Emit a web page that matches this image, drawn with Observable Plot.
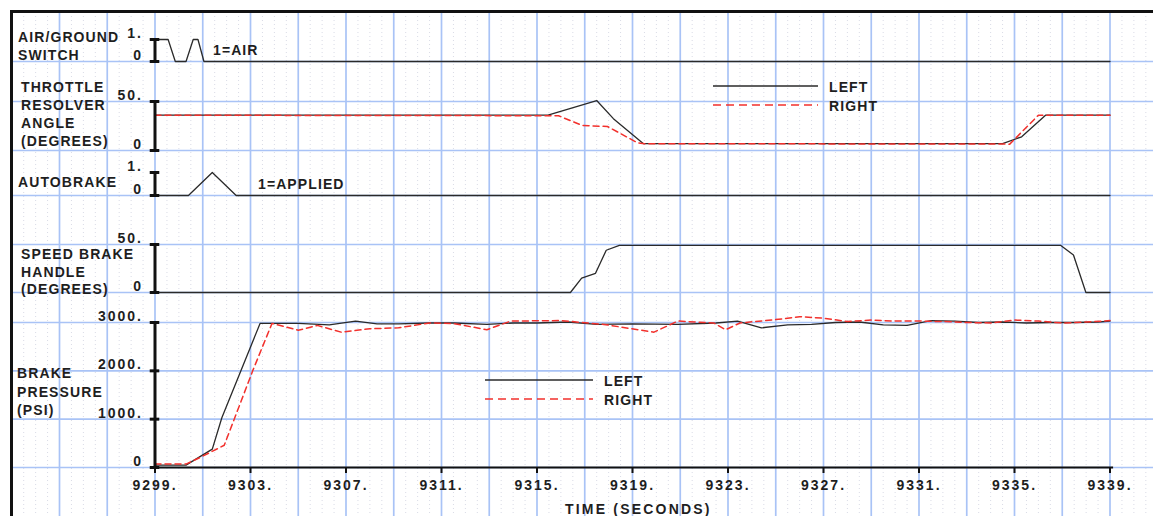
<!DOCTYPE html>
<html><head><meta charset="utf-8">
<script src="https://cdn.jsdelivr.net/npm/d3@7"></script>
<script src="https://cdn.jsdelivr.net/npm/@observablehq/plot@0.6"></script>
<style>
html,body{margin:0;padding:0;background:#fff;overflow:hidden}
#chart{position:relative;width:1153px;height:516px;overflow:hidden;background:#fff}
#chart svg{position:absolute;left:0;top:0;background:transparent}
#chart text{font-family:"Liberation Sans",Arial,sans-serif;font-weight:bold;font-size:14px;letter-spacing:1.1px;fill:#1e1e1e}
#chart svg.panel text{letter-spacing:2px}
#chart text.wide{letter-spacing:2.2px}
.frame{position:absolute;left:10px;top:10px;width:1200px;height:600px;border-top:3px solid #111;border-left:3px solid #111}
</style></head>
<body><div id="chart"></div>
<script>
// ---------- DATA ----------
const xTicks = [9299, 9303, 9307, 9311, 9315, 9319, 9323, 9327, 9331, 9335, 9339];

// Air/ground switch (1 = AIR)
const agTime  = [9299, 9299.55, 9299.85, 9300.3, 9300.6, 9300.8, 9301.05, 9339];
const agValue = [1, 1, 0, 0, 1, 1, 0, 0];
const agTicks = [0, 1];

// Throttle resolver angle (degrees)
const thrLeftTime   = [9299, 9315.46, 9317.5, 9318.2, 9319.46, 9334.5, 9335.3, 9336.3, 9339];
const thrLeftValue  = [36, 36, 51, 32.5, 7, 7, 14, 36, 36];
const thrRightTime  = [9299, 9315.9, 9316.9, 9317.95, 9319.2, 9319.5, 9334.8, 9336.0, 9339];
const thrRightValue = [36, 35.5, 25.5, 24.5, 8, 7, 6.5, 36, 36];
const thrTicks = [0, 50];

// Autobrake (1 = APPLIED)
const abTime  = [9299, 9300.4, 9301.4, 9302.4, 9339];
const abValue = [0, 0, 1, 0, 0];
const abTicks = [0, 1];

// Speed brake handle (degrees)
const sbTime  = [9299, 9316.4, 9316.87, 9317.45, 9317.9, 9318.45, 9336.94, 9337.47, 9337.99, 9339];
const sbValue = [0, 0, 15, 20, 44, 49, 49, 39, 0, 0];
const sbTicks = [0, 50];

// Brake pressure (PSI)
const bpLeftTime = [9299, 9300.3, 9301.4, 9301.8, 9303.4, 9305, 9306.3, 9307.4, 9308.3, 9309.2, 9310.5, 9311.5,
  9312.9, 9314, 9315, 9316.3, 9317.5, 9319, 9320.9, 9322.5, 9323.4, 9324.4, 9325.5, 9326.5, 9327.5, 9328.5,
  9329.5, 9330.5, 9331.5, 9332.5, 9333.5, 9334.5, 9335.5, 9336.5, 9337.5, 9338.5, 9339];
const bpLeftValue = [50, 50, 380, 1030, 2980, 2980, 2950, 3030, 2970, 2970, 2990, 2990,
  2960, 2990, 2990, 3010, 2960, 2970, 2960, 2990, 3030, 2890, 2950, 2960, 3000, 3010,
  2950, 2940, 3040, 3030, 3000, 3010, 2990, 3000, 3000, 3010, 3030];
const bpRightTime = [9299, 9300.3, 9300.9, 9301.9, 9303.1, 9303.9, 9305, 9305.8, 9306.8, 9308, 9309.2, 9310.5,
  9311.5, 9312.9, 9313.9, 9316, 9317.8, 9319.9, 9320.9, 9322.4, 9322.9, 9323.5, 9325, 9326, 9327, 9328,
  9329, 9330, 9331, 9332, 9333, 9334, 9335, 9336, 9337, 9338, 9339];
const bpRightValue = [70, 70, 210, 460, 2010, 2980, 2840, 2940, 2800, 2870, 2890, 2990,
  2980, 2850, 3030, 3040, 2960, 2800, 3030, 2990, 2850, 2990, 3060, 3120, 3090, 3020,
  3050, 3030, 3030, 3020, 3000, 2990, 3050, 3030, 2990, 3010, 3040];
const bpTicks = [0, 1000, 2000, 3000];

// ---------- LAYOUT / STYLE ----------
const W = 1153, H = 516;
const X0 = 9299;
const xScale = {domain: [9299, 9339], range: [154.5, 1109.5]};
const GRID = "#a9c3f6";
const INK = "#2a2a2a";
const RED = "#f2302c";
const zip = (t, v) => t.map((d, i) => ({t: d, v: v[i]}));
const fmt = d => d === 0 ? "0" : d + ".";

const chart = document.getElementById("chart");

// background grid
const major = d3.range(9293, 9342, 2);
const minor = d3.range(9293, 9342, 0.5).filter(d => !major.includes(d));
const bg = Plot.plot({
  width: W, height: H, marginTop: 12, marginBottom: 0, marginLeft: 0, marginRight: 0,
  x: {...xScale, axis: null},
  marks: [
    Plot.ruleX(minor, {stroke: "#d9dbe6", strokeWidth: 1, strokeDasharray: "1,3"}),
    Plot.ruleX(major, {stroke: GRID, strokeWidth: 1.7})
  ]
});
bg.style.background = "transparent";
chart.appendChild(bg);

function panel(cfg) {
  const marks = [
    Plot.ruleY(cfg.grid, {x1: 9293, x2: 9341, stroke: GRID, strokeWidth: 1.7}),
    ...cfg.series,
    Plot.ruleX([X0], {y1: cfg.ticks[0], y2: cfg.ticks[cfg.ticks.length - 1], stroke: "#111", strokeWidth: 3}),
    Plot.ruleY(cfg.ticks, {x1: X0 - 0.2, x2: X0 + 0.2, stroke: "#111", strokeWidth: 3}),
    Plot.text(cfg.ticks, {x: X0, y: d => d, text: fmt, textAnchor: "end", dx: -12, dy: -6})
  ];
  if (cfg.extra) marks.push(...cfg.extra);
  const svg = Plot.plot({
    width: W, height: H, marginTop: 0, marginLeft: 0, marginRight: 0, marginBottom: cfg.mb || 0,
    x: cfg.xaxis ? {...xScale} : {...xScale, axis: null},
    y: {domain: cfg.domain, range: cfg.range, axis: null},
    marks
  });
  svg.style.background = "transparent";
  svg.classList.add("panel");
  chart.appendChild(svg);
}

const blackLine = (t, v) => Plot.line(zip(t, v), {x: "t", y: "v", stroke: INK, strokeWidth: 1.3});
const redLine = (t, v) => Plot.line(zip(t, v), {x: "t", y: "v", stroke: RED, strokeWidth: 1.5, strokeDasharray: "6,4"});

panel({domain: [0, 1], range: [61, 39], ticks: agTicks, grid: [0],
  series: [blackLine(agTime, agValue)]});
panel({domain: [0, 50], range: [150, 101], ticks: thrTicks, grid: [0, 50],
  series: [blackLine(thrLeftTime, thrLeftValue), redLine(thrRightTime, thrRightValue)]});
panel({domain: [0, 1], range: [195, 172], ticks: abTicks, grid: [0],
  series: [blackLine(abTime, abValue)]});
panel({domain: [0, 50], range: [292, 244], ticks: sbTicks, grid: [0, 50],
  series: [blackLine(sbTime, sbValue)]});
panel({domain: [0, 3000], range: [467, 322], ticks: bpTicks, grid: [0, 1000, 2000, 3000], mb: H - 467, xaxis: true,
  series: [blackLine(bpLeftTime, bpLeftValue), redLine(bpRightTime, bpRightValue)],
  extra: [
    Plot.ruleY([0], {x1: X0, x2: 9339.15, stroke: "#111", strokeWidth: 2}),
    Plot.axisX({ticks: xTicks, tickSize: 6, tickPadding: 7, tickFormat: d => d + ".", label: null, strokeWidth: 2, stroke: "#111"})
  ]});

// annotations: panel titles, inline notes, legends
const ov = d3.select(chart).append("svg").attr("width", W).attr("height", H);
const labels = [
  ["AIR/GROUND", 18, 42], ["SWITCH", 18, 60],
  ["THROTTLE", 21, 92], ["RESOLVER", 21, 110], ["ANGLE", 21, 128], ["(DEGREES)", 21, 146],
  ["AUTOBRAKE", 18, 187],
  ["SPEED BRAKE", 21, 259], ["HANDLE", 21, 276.5], ["(DEGREES)", 21, 294],
  ["BRAKE", 17, 378], ["PRESSURE", 17, 397], ["(PSI)", 17, 415],
  ["1=AIR", 213, 55], ["1=APPLIED", 258, 189]
];
ov.selectAll("text.lab").data(labels).join("text").attr("class", "lab")
  .attr("x", d => d[1]).attr("y", d => d[2]).text(d => d[0]);
ov.append("text").attr("class", "wide").attr("x", 565).attr("y", 514).text("TIME (SECONDS)");

const legends = [[713, 818, 86, 105], [485, 593, 380, 399]];
for (const [x1, x2, yL, yR] of legends) {
  ov.append("line").attr("x1", x1).attr("x2", x2).attr("y1", yL).attr("y2", yL)
    .attr("stroke", INK).attr("stroke-width", 1.4);
  ov.append("line").attr("x1", x1).attr("x2", x2).attr("y1", yR).attr("y2", yR)
    .attr("stroke", RED).attr("stroke-width", 1.5).attr("stroke-dasharray", "8,5");
  ov.append("text").attr("x", x2 + 11).attr("y", yL + 6).text("LEFT");
  ov.append("text").attr("x", x2 + 11).attr("y", yR + 6).text("RIGHT");
}

const fr = document.createElement("div");
fr.className = "frame";
chart.appendChild(fr);
</script>
</body></html>
